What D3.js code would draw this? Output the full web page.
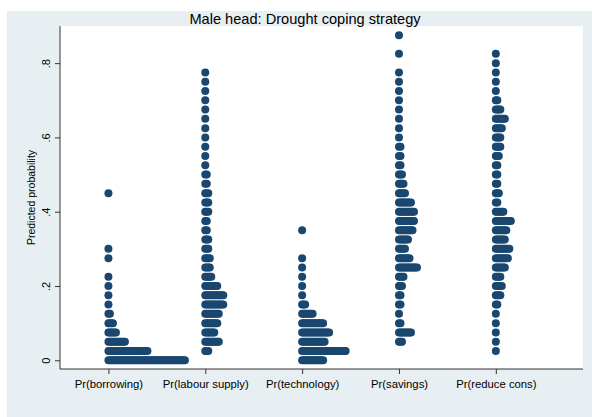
<!DOCTYPE html>
<html>
<head>
<meta charset="utf-8">
<script src="https://cdn.jsdelivr.net/npm/d3@7"></script>
<style>
  body { margin: 0; background: #fff; }
  svg { display: block; font-family: "Liberation Sans", Arial, sans-serif; }
</style>
</head>
<body>
<div id="chart"></div>
<script>
// categories on the x axis
const categories = ["Pr(borrowing)", "Pr(labour supply)", "Pr(technology)", "Pr(savings)", "Pr(reduce cons)"];

// [predicted probability bin, number of dots] for each outcome
const borrowing = [[0, 52], [.025, 27], [.05, 12], [.075, 6], [.1, 4], [.125, 2], [.15, 1], [.175, 1],
  [.2, 1], [.225, 1], [.275, 1], [.3, 1], [.45, 1]];
const labourSupply = [[.025, 3], [.05, 10], [.075, 7], [.1, 9], [.125, 10], [.15, 13], [.175, 13], [.2, 9],
  [.225, 5], [.25, 4], [.275, 4], [.3, 3], [.325, 3], [.35, 2], [.375, 2], [.4, 3], [.425, 3], [.45, 3],
  [.475, 2], [.5, 2], [.525, 1], [.55, 1], [.575, 1], [.6, 1], [.625, 1], [.65, 1], [.675, 1], [.7, 1],
  [.725, 1], [.75, 1], [.775, 1]];
const technology = [[0, 15], [.025, 30], [.05, 16], [.075, 19], [.1, 15], [.125, 8], [.15, 3], [.175, 1],
  [.2, 1], [.225, 1], [.25, 1], [.275, 1], [.35, 1]];
const savings = [[.05, 3], [.075, 9], [.1, 2], [.125, 1], [.15, 2], [.175, 2], [.2, 3], [.225, 4], [.25, 13],
  [.275, 8], [.3, 5], [.325, 7], [.35, 10], [.375, 11], [.4, 11], [.425, 9], [.45, 5], [.475, 4], [.5, 3],
  [.525, 2], [.55, 2], [.575, 2], [.6, 1], [.625, 1], [.65, 1], [.675, 1], [.7, 1], [.725, 1], [.75, 1],
  [.775, 1], [.825, 1], [.875, 1]];
const reduceCons = [[.025, 1], [.05, 1], [.075, 1], [.1, 1], [.125, 1], [.15, 2], [.175, 4], [.2, 5],
  [.225, 4], [.25, 7], [.275, 9], [.3, 10], [.325, 7], [.35, 8], [.375, 11], [.4, 6], [.425, 2], [.45, 3],
  [.475, 2], [.5, 2], [.525, 2], [.55, 3], [.575, 4], [.6, 4], [.625, 5], [.65, 7], [.675, 4], [.7, 2],
  [.725, 1], [.75, 1], [.775, 1], [.8, 1], [.825, 1]];

const series = [borrowing, labourSupply, technology, savings, reduceCons];

const yTicks = [0, .2, .4, .6, .8];
const yTickLabels = ["0", ".2", ".4", ".6", ".8"];

const titleText = "Male head: Drought coping strategy";
const yTitle = "Predicted probability";

var W = 592, H = 417;
var plot = {left: 60, right: 583, top: 26, bottom: 369};
var navy = "#1a476f";

var svg = d3.select("#chart").append("svg")
    .attr("width", W)
    .attr("height", H);

// graph region
svg.append("rect")
    .attr("x", 7).attr("y", 11)
    .attr("width", W - 7).attr("height", H - 11)
    .attr("fill", "#e8eff2");

// plot region
svg.append("rect")
    .attr("x", plot.left).attr("y", plot.top)
    .attr("width", plot.right - plot.left).attr("height", plot.bottom - plot.top)
    .attr("fill", "#fff");

var xScale = d3.scaleLinear()
    .domain([0.5, 5.9])
    .range([plot.left, plot.right]);

var yScale = d3.scaleLinear()
    .domain([-0.0235, 0.9])
    .range([plot.bottom, plot.top]);

// horizontal offset of the i-th dot in a bin
var stack = d3.scaleLinear()
    .domain([0, 1])
    .range([0, 1.5]);

var dots = [];
series.forEach((s, k) => {
  s.forEach(([p, n]) => {
    for (let i = 0; i < n; i++) dots.push({cat: k + 1, p: p, i: i});
  });
});

svg.append("g")
  .selectAll("circle")
  .data(dots)
  .join("circle")
    .attr("cx", d => xScale(d.cat) + stack(d.i))
    .attr("cy", d => yScale(d.p))
    .attr("r", 4)
    .attr("fill", navy);

// y axis
var yAxis = d3.axisLeft(yScale)
    .tickValues(yTicks)
    .tickFormat((d, i) => yTickLabels[i])
    .tickSize(5)
    .tickSizeOuter(0);

var gy = svg.append("g")
    .attr("transform", "translate(" + plot.left + ",0)")
    .call(yAxis);
gy.select(".domain").attr("stroke", "#333").attr("d", "M0," + plot.top + "V" + plot.bottom);
gy.selectAll(".tick line").attr("stroke", "#333");
gy.selectAll(".tick text")
    .attr("x", 0).attr("y", 0)
    .attr("transform", "translate(-10,0) rotate(-90)")
    .attr("text-anchor", "middle")
    .attr("dy", 0)
    .attr("font-size", "11px")
    .attr("fill", "#000");

// x axis
var xAxis = d3.axisBottom(xScale)
    .tickValues(d3.range(1, categories.length + 1))
    .tickFormat(d => categories[d - 1])
    .tickSize(5)
    .tickSizeOuter(0);

var gx = svg.append("g")
    .attr("transform", "translate(0," + plot.bottom + ")")
    .call(xAxis);
gx.select(".domain").attr("stroke", "#333").attr("d", "M" + plot.left + ",0H" + plot.right);
gx.selectAll(".tick line").attr("stroke", "#333");
gx.selectAll(".tick text")
    .attr("y", 19)
    .attr("dy", 0)
    .attr("font-size", "11.3px")
    .attr("fill", "#000");

// titles
svg.append("text")
    .attr("x", 305).attr("y", 24)
    .attr("text-anchor", "middle")
    .attr("font-size", "14.6px")
    .attr("fill", "#000")
    .text(titleText);

svg.append("text")
    .attr("transform", "translate(35," + ((plot.top + plot.bottom) / 2) + ") rotate(-90)")
    .attr("text-anchor", "middle")
    .attr("font-size", "10.5px")
    .attr("fill", "#000")
    .text(yTitle);
</script>
</body>
</html>
